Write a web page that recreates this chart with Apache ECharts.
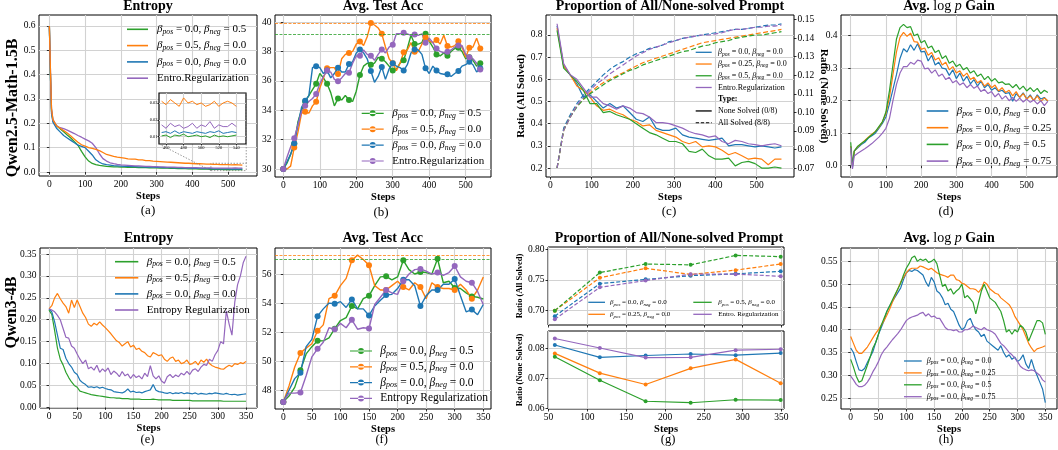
<!DOCTYPE html>
<html>
<head>
<meta charset="utf-8">
<title>ablation figure</title>
<script src="https://cdn.jsdelivr.net/npm/echarts@6.0.0/dist/echarts.min.js"></script>
<style>
  html, body { margin: 0; padding: 0; background: #fff; }
  #chart { width: 1058px; height: 450px; }
</style>
</head>
<body>
<div id="chart"></div>
<script>
// ---------- data ----------
// (a) entropy, Qwen2.5-Math-1.5B
const stepsA = [0,3,6,10,20,30,40,50,60,70,80,90,100,110,120,130,140,150,160,170,180,190,200,210,220,230,240,250,260,270,280,290,300,310,320,330,340,350,360,370,380,390,400,410,420,430,440,450,460,470,480,490,500,510,520,530,540];
const entA_g = [0.6,0.4,0.25,0.21,0.19,0.178,0.165,0.152,0.14,0.125,0.11,0.085,0.062,0.045,0.035,0.03,0.027,0.025,0.023,0.022,0.021,0.021,0.02,0.02,0.019,0.019,0.019,0.018,0.018,0.018,0.017,0.017,0.017,0.016,0.016,0.016,0.015,0.015,0.014,0.014,0.014,0.013,0.013,0.013,0.012,0.012,0.012,0.011,0.011,0.011,0.011,0.01,0.011,0.01,0.01,0.01,0.01];
const entA_o = [0.6,0.42,0.26,0.215,0.19,0.18,0.17,0.16,0.148,0.135,0.122,0.112,0.106,0.1,0.097,0.093,0.088,0.08,0.072,0.068,0.064,0.061,0.059,0.057,0.054,0.053,0.053,0.05,0.05,0.047,0.047,0.045,0.044,0.043,0.042,0.041,0.04,0.039,0.038,0.037,0.036,0.036,0.035,0.034,0.034,0.033,0.032,0.032,0.031,0.031,0.03,0.03,0.03,0.029,0.03,0.029,0.028];
const entA_b = [0.6,0.4,0.24,0.205,0.18,0.165,0.15,0.14,0.13,0.12,0.11,0.105,0.1,0.085,0.07,0.05,0.04,0.033,0.03,0.028,0.026,0.025,0.024,0.023,0.023,0.022,0.022,0.021,0.021,0.02,0.02,0.02,0.019,0.019,0.018,0.018,0.018,0.017,0.017,0.016,0.016,0.016,0.015,0.015,0.015,0.014,0.014,0.014,0.013,0.013,0.013,0.013,0.013,0.012,0.013,0.012,0.013];
const entA_p = [0.6,0.42,0.26,0.215,0.19,0.182,0.178,0.172,0.165,0.158,0.15,0.143,0.135,0.128,0.118,0.1,0.075,0.055,0.045,0.038,0.034,0.031,0.029,0.028,0.027,0.026,0.025,0.025,0.024,0.023,0.023,0.022,0.022,0.021,0.021,0.02,0.02,0.02,0.019,0.019,0.018,0.018,0.018,0.018,0.017,0.017,0.017,0.017,0.016,0.016,0.016,0.016,0.016,0.016,0.017,0.016,0.016];
// inset of (a)
const insetX = [452, 551];
const insetY = [0.0057, 0.0359];
const insetSteps = [455,460,465,470,475,480,485,490,495,500,505,510,515,520,525,530,535,540];
const insA_o = [0.031,0.029,0.032,0.030,0.028,0.033,0.030,0.031,0.029,0.030,0.028,0.029,0.031,0.028,0.030,0.031,0.030,0.028];
const insA_p = [0.017,0.015,0.018,0.016,0.017,0.015,0.016,0.018,0.015,0.017,0.016,0.019,0.015,0.017,0.016,0.016,0.018,0.016];
const insA_b = [0.0125,0.013,0.012,0.0135,0.012,0.013,0.0125,0.012,0.013,0.0125,0.012,0.013,0.0125,0.0135,0.012,0.0125,0.013,0.0125];
const insA_g = [0.0105,0.011,0.0095,0.011,0.0105,0.0115,0.01,0.0105,0.011,0.01,0.0105,0.0095,0.011,0.01,0.0105,0.01,0.0105,0.011];

// (b) avg test acc, 1.5B
const stepsB = [0,10,20,30,40,50,60,70,80,90,100,110,120,130,140,150,160,170,180,190,200,210,220,230,240,250,260,270,280,290,300,310,320,330,340,350,360,370,380,390,400,410,420,430,440,450,460,470,480,490,500,510,520,530,540];
const accB_g = [30.0,30.4,31.0,31.7,33.2,34.0,34.6,35.0,35.4,35.8,36.5,36.2,35.8,35.2,34.3,34.8,34.7,35.0,34.7,34.6,35.3,36.4,37.0,37.2,37.1,37.2,37.6,37.5,37.3,37.0,36.7,36.8,37.2,37.4,38.2,39.1,38.5,38.5,38.6,39.2,38.7,38.3,37.8,37.7,37.9,37.7,38.0,38.2,38.25,38.0,37.5,37.6,37.4,37.0,37.2];
const accB_o = [30.0,30.0,30.2,31.47,32.5,33.8,33.9,33.8,34.3,34.58,35.5,36.2,36.85,36.9,36.9,36.46,37.5,37.8,37.9,38.0,38.5,38.68,38.4,39.0,39.93,39.8,39.6,39.2,38.3,37.5,37.2,36.7,37.2,37.94,38.1,38.6,37.98,38.0,38.5,38.96,38.7,38.6,38.78,38.5,39.1,38.37,38.3,38.4,38.7,38.3,37.6,38.25,38.3,38.9,38.2];
const accB_b = [30.0,30.5,31.0,31.75,33.0,34.2,34.65,35.0,36.9,37.0,36.9,36.5,36.7,36.2,36.5,36.9,36.6,36.6,37.14,37.3,37.9,38.14,37.9,37.5,36.67,35.9,36.3,36.94,36.1,36.8,37.2,37.0,36.9,36.7,37.1,37.9,38.14,38.1,37.8,36.85,36.5,37.0,36.7,36.5,36.45,36.45,36.3,36.5,36.67,37.0,37.1,37.3,37.1,36.6,36.85];
const accB_p = [30.0,30.8,31.5,32.1,33.0,33.9,34.3,34.6,34.8,35.1,35.8,36.3,36.7,36.6,36.1,35.98,36.2,36.5,36.55,37.2,37.7,37.7,38.1,37.8,37.7,37.4,37.8,38.14,37.9,38.3,38.46,39.2,39.2,39.27,39.2,39.1,39.16,39.1,39.2,38.6,38.9,38.6,38.2,38.0,37.9,37.98,38.1,38.3,38.4,38.4,37.8,37.6,37.5,37.2,36.78];

// (c) all / none solved ratio, 1.5B
const stepsC = [16,32,48,64,80,96,112,128,144,160,176,192,208,224,240,256,272,288,304,320,336,352,368,384,400,416,432,448,464,480,496,512,528,544,560];
const allC_b = [0.2,0.38,0.44,0.49,0.53,0.56,0.59,0.62,0.645,0.665,0.68,0.70,0.715,0.725,0.74,0.745,0.755,0.77,0.775,0.785,0.79,0.795,0.80,0.805,0.81,0.815,0.82,0.825,0.825,0.83,0.835,0.84,0.845,0.845,0.85];
const allC_o = [0.2,0.37,0.43,0.48,0.51,0.54,0.565,0.585,0.60,0.615,0.63,0.645,0.66,0.675,0.685,0.695,0.705,0.715,0.725,0.735,0.745,0.755,0.765,0.77,0.775,0.78,0.785,0.79,0.795,0.80,0.805,0.81,0.815,0.82,0.825];
const allC_g = [0.2,0.37,0.43,0.475,0.51,0.535,0.555,0.575,0.595,0.61,0.625,0.64,0.65,0.665,0.675,0.685,0.695,0.705,0.715,0.725,0.73,0.74,0.75,0.755,0.765,0.77,0.775,0.785,0.79,0.795,0.80,0.80,0.805,0.81,0.815];
const allC_p = [0.2,0.37,0.43,0.48,0.52,0.55,0.58,0.60,0.625,0.645,0.665,0.685,0.705,0.72,0.735,0.745,0.755,0.765,0.775,0.785,0.79,0.795,0.80,0.80,0.805,0.81,0.82,0.825,0.825,0.83,0.835,0.835,0.84,0.84,0.845];
const noneC_b = [0.1465,0.1250,0.1202,0.1154,0.1082,0.1094,0.1059,0.1023,0.1047,0.1023,0.1035,0.0999,0.0963,0.0951,0.0975,0.0915,0.0903,0.0903,0.0915,0.0879,0.0867,0.0861,0.0855,0.0849,0.0855,0.0861,0.0820,0.0826,0.0826,0.0820,0.0814,0.0820,0.0814,0.0808,0.0814];
const noneC_o = [0.1453,0.1250,0.1202,0.1142,0.1118,0.1082,0.1035,0.1011,0.1017,0.0999,0.0987,0.0963,0.0951,0.0927,0.0933,0.0903,0.0891,0.0879,0.0867,0.0843,0.0831,0.0843,0.0814,0.0820,0.0814,0.0796,0.0772,0.0784,0.0766,0.0748,0.0754,0.0748,0.0718,0.0748,0.0748];
const noneC_g = [0.1441,0.1238,0.1202,0.1166,0.1118,0.1047,0.1047,0.0999,0.1005,0.0987,0.0975,0.0963,0.0939,0.0915,0.0891,0.0879,0.0861,0.0843,0.0843,0.0831,0.0790,0.0784,0.0802,0.0766,0.0748,0.0748,0.0754,0.0712,0.0730,0.0736,0.0724,0.0700,0.0700,0.0706,0.0700];
const noneC_p = [0.1477,0.1262,0.1202,0.1178,0.1130,0.1082,0.1082,0.1047,0.1035,0.1017,0.1035,0.1023,0.0999,0.0993,0.0975,0.0945,0.0945,0.0939,0.0927,0.0915,0.0897,0.0885,0.0879,0.0867,0.0873,0.0843,0.0831,0.0849,0.0843,0.0831,0.0826,0.0820,0.0826,0.0831,0.0820];

// (d) avg log p gain, 1.5B
const stepsD = [0,5,10,20,30,40,50,60,70,80,90,100,110,120,130,140,150,160,170,180,190,200,210,220,230,240,250,260,270,280,290,300,310,320,330,340,350,360,370,380,390,400,410,420,430,440,450,460,470,480,490,500,510,520,530,540,550,560];
const gainD_b = [0.06,-0.005,0.045,0.055,0.065,0.072,0.085,0.092,0.1,0.115,0.13,0.15,0.19,0.235,0.28,0.33,0.36,0.35,0.372,0.355,0.375,0.35,0.352,0.322,0.34,0.31,0.318,0.3,0.298,0.278,0.295,0.268,0.285,0.26,0.275,0.252,0.265,0.245,0.26,0.24,0.25,0.232,0.24,0.228,0.232,0.222,0.225,0.198,0.222,0.21,0.224,0.205,0.218,0.2,0.218,0.205,0.21,0.198];
const gainD_o = [0.06,0.0,0.045,0.058,0.068,0.078,0.088,0.097,0.105,0.118,0.135,0.16,0.21,0.28,0.35,0.395,0.41,0.398,0.408,0.382,0.38,0.358,0.362,0.34,0.348,0.325,0.332,0.31,0.318,0.295,0.305,0.285,0.292,0.275,0.285,0.265,0.272,0.255,0.262,0.245,0.255,0.24,0.248,0.23,0.24,0.225,0.232,0.215,0.228,0.21,0.222,0.205,0.215,0.2,0.215,0.198,0.208,0.2];
const gainD_g = [0.072,0.0,0.045,0.06,0.068,0.076,0.086,0.095,0.105,0.12,0.135,0.165,0.23,0.31,0.39,0.425,0.435,0.425,0.428,0.4,0.405,0.378,0.385,0.362,0.368,0.348,0.355,0.33,0.338,0.315,0.322,0.305,0.312,0.295,0.302,0.285,0.292,0.275,0.282,0.265,0.275,0.26,0.268,0.255,0.258,0.25,0.252,0.24,0.25,0.235,0.245,0.23,0.24,0.228,0.238,0.222,0.232,0.225];
const gainD_p = [0.055,-0.01,0.03,0.038,0.045,0.052,0.06,0.068,0.078,0.088,0.1,0.115,0.145,0.2,0.25,0.285,0.305,0.305,0.318,0.312,0.325,0.322,0.298,0.3,0.285,0.295,0.275,0.282,0.265,0.272,0.255,0.262,0.248,0.255,0.24,0.25,0.238,0.245,0.228,0.235,0.222,0.228,0.212,0.222,0.205,0.215,0.2,0.21,0.198,0.208,0.196,0.205,0.195,0.202,0.19,0.2,0.185,0.198];

// (e) entropy, Qwen3-4B
const stepsE = [0,5,10,15,20,25,30,35,40,45,50,55,60,65,70,75,80,85,90,95,100,105,110,115,120,125,130,135,140,145,150,155,160,165,170,175,180,185,190,195,200,205,210,215,220,225,230,235,240,245,250,255,260,265,270,275,280,285,290,295,300,305,310,315,320,325,330,335,340,345,350];
const entE_g = [0.222,0.212,0.175,0.135,0.11,0.097,0.08,0.068,0.058,0.05,0.046,0.037,0.035,0.033,0.031,0.029,0.028,0.027,0.026,0.025,0.024,0.023,0.022,0.022,0.021,0.021,0.02,0.02,0.02,0.019,0.019,0.019,0.019,0.018,0.018,0.018,0.018,0.019,0.018,0.017,0.017,0.017,0.017,0.017,0.016,0.016,0.016,0.016,0.016,0.016,0.016,0.015,0.015,0.015,0.015,0.015,0.015,0.015,0.015,0.015,0.015,0.015,0.014,0.014,0.014,0.014,0.014,0.014,0.014,0.014,0.014];
const entE_b = [0.225,0.218,0.195,0.165,0.135,0.132,0.112,0.1,0.092,0.08,0.075,0.062,0.056,0.052,0.046,0.047,0.045,0.047,0.044,0.046,0.043,0.041,0.04,0.036,0.035,0.034,0.033,0.036,0.042,0.035,0.037,0.034,0.035,0.033,0.036,0.038,0.04,0.052,0.039,0.036,0.035,0.033,0.032,0.034,0.031,0.033,0.032,0.034,0.031,0.033,0.032,0.031,0.033,0.03,0.032,0.031,0.03,0.032,0.031,0.033,0.032,0.031,0.03,0.032,0.03,0.029,0.03,0.028,0.029,0.03,0.031];
const entE_o = [0.225,0.232,0.25,0.26,0.248,0.238,0.23,0.215,0.245,0.228,0.245,0.23,0.215,0.205,0.19,0.185,0.192,0.188,0.195,0.188,0.182,0.175,0.168,0.16,0.152,0.148,0.14,0.145,0.15,0.138,0.142,0.132,0.135,0.128,0.125,0.118,0.115,0.125,0.122,0.118,0.12,0.11,0.105,0.112,0.115,0.105,0.108,0.1,0.102,0.108,0.098,0.1,0.105,0.097,0.108,0.103,0.11,0.1,0.095,0.092,0.09,0.088,0.087,0.092,0.096,0.093,0.1,0.098,0.102,0.1,0.105];
const entE_p = [0.225,0.222,0.218,0.21,0.2,0.18,0.16,0.158,0.14,0.135,0.122,0.11,0.1,0.108,0.088,0.092,0.085,0.096,0.08,0.088,0.082,0.09,0.075,0.083,0.078,0.07,0.082,0.072,0.076,0.066,0.075,0.068,0.072,0.065,0.078,0.07,0.095,0.072,0.065,0.072,0.06,0.055,0.07,0.075,0.068,0.074,0.07,0.078,0.074,0.082,0.075,0.085,0.088,0.082,0.092,0.098,0.096,0.11,0.105,0.12,0.13,0.15,0.145,0.22,0.19,0.165,0.24,0.28,0.3,0.33,0.345];

// (f) avg test acc, Qwen3-4B
const stepsF = [0,10,20,30,40,50,60,70,80,90,100,110,120,130,140,150,160,170,180,190,200,210,220,230,240,250,260,270,280,290,300,310,320,330,340,350];
const accF_g = [47.2,47.6,48.2,49.37,50.5,51.0,51.41,51.4,51.6,52.24,52.8,53.0,53.8,53.6,54.3,54.5,55.2,55.8,55.84,55.6,55.8,56.94,56.3,56.0,56.14,56.1,56.0,57.05,55.4,55.5,55.04,55.0,54.7,54.46,54.4,54.28];
const accF_o = [47.2,48.3,49.6,50.56,50.9,51.2,52.1,52.5,54.3,54.5,55.2,55.7,56.94,57.3,57.0,56.6,55.2,54.9,54.9,55.2,55.5,55.1,54.9,55.4,55.1,54.3,55.4,55.1,55.0,55.0,54.9,55.3,54.9,54.3,54.9,55.8];
const accF_b = [47.2,48.0,48.8,49.2,51.0,51.5,53.1,53.6,54.0,53.95,54.1,53.7,54.25,53.6,53.6,53.15,53.8,54.2,54.55,54.6,55.0,55.6,55.6,55.2,53.8,54.5,54.9,54.9,55.3,55.3,55.65,54.5,53.4,53.55,53.2,53.9];
const accF_p = [47.2,47.8,47.8,47.85,49.0,50.3,50.85,51.3,52.3,52.2,52.6,52.3,52.85,52.2,52.3,52.25,53.9,54.4,54.9,54.7,54.6,55.5,56.0,56.3,56.35,56.2,56.0,56.1,55.9,56.1,56.55,55.8,55.5,55.4,54.8,53.9];

// (g) all / none solved ratio, Qwen3-4B
const stepsG = [58,116,175,233,291,349];
const allG_b = [0.691,0.744,0.751,0.757,0.760,0.764];
const allG_o = [0.700,0.7535,0.769,0.759,0.766,0.776];
const allG_g = [0.700,0.762,0.776,0.7746,0.790,0.788];
const allG_p = [0.686,0.738,0.749,0.7595,0.7595,0.756];
const noneG_b = [0.0811,0.0770,0.0776,0.0781,0.0777,0.0784];
const noneG_o = [0.0783,0.0717,0.0679,0.0733,0.0763,0.0683];
const noneG_g = [0.0772,0.0693,0.0623,0.0618,0.0628,0.0627];
const noneG_p = [0.0833,0.0801,0.0769,0.0770,0.0794,0.0797];

// (h) avg log p gain, Qwen3-4B
const stepsH = stepsE;
const gainH_b = [0.36,0.35,0.33,0.312,0.31,0.315,0.328,0.34,0.352,0.372,0.39,0.405,0.42,0.44,0.452,0.462,0.472,0.482,0.492,0.51,0.525,0.53,0.528,0.532,0.53,0.525,0.52,0.505,0.495,0.515,0.505,0.485,0.48,0.47,0.455,0.458,0.445,0.44,0.425,0.41,0.4,0.405,0.42,0.425,0.41,0.4,0.395,0.385,0.39,0.375,0.37,0.365,0.36,0.355,0.365,0.35,0.34,0.345,0.335,0.34,0.33,0.335,0.345,0.325,0.315,0.335,0.315,0.3,0.285,0.27,0.24];
const gainH_o = [0.385,0.37,0.355,0.348,0.348,0.355,0.362,0.372,0.382,0.392,0.4,0.41,0.42,0.432,0.445,0.46,0.475,0.49,0.505,0.515,0.525,0.532,0.535,0.535,0.535,0.54,0.538,0.535,0.532,0.535,0.53,0.525,0.522,0.52,0.518,0.515,0.52,0.52,0.51,0.508,0.502,0.5,0.495,0.49,0.49,0.488,0.482,0.49,0.505,0.5,0.49,0.485,0.48,0.478,0.47,0.465,0.46,0.455,0.445,0.43,0.42,0.41,0.4,0.385,0.37,0.36,0.352,0.358,0.36,0.362,0.365];
const gainH_g = [0.335,0.318,0.298,0.285,0.288,0.305,0.322,0.34,0.36,0.372,0.39,0.41,0.425,0.44,0.452,0.465,0.478,0.49,0.502,0.52,0.535,0.545,0.558,0.562,0.55,0.555,0.552,0.555,0.548,0.55,0.555,0.545,0.52,0.495,0.5,0.485,0.49,0.478,0.485,0.49,0.5,0.47,0.475,0.468,0.46,0.435,0.46,0.485,0.5,0.485,0.47,0.465,0.46,0.45,0.44,0.42,0.395,0.4,0.39,0.4,0.395,0.41,0.405,0.395,0.375,0.39,0.405,0.42,0.42,0.415,0.39];
const gainH_p = [0.298,0.29,0.28,0.275,0.275,0.278,0.285,0.295,0.308,0.318,0.33,0.345,0.355,0.362,0.37,0.378,0.385,0.392,0.4,0.41,0.42,0.425,0.428,0.43,0.432,0.436,0.438,0.43,0.435,0.428,0.43,0.425,0.425,0.415,0.405,0.4,0.4,0.398,0.4,0.395,0.395,0.4,0.4,0.403,0.408,0.405,0.402,0.4,0.405,0.4,0.398,0.395,0.39,0.38,0.37,0.365,0.358,0.35,0.345,0.338,0.33,0.32,0.315,0.312,0.31,0.312,0.31,0.305,0.3,0.29,0.285];

// tick labels
const ticksSteps560 = [0,100,200,300,400,500];
const ticksSteps350 = [0,50,100,150,200,250,300,350];
const ticksStepsG = [50,100,150,200,250,300,350];
const ticksEntA = [0,0.1,0.2,0.3,0.4,0.5,0.6];
const ticksAccB = [30,32,34,36,38,40];
const ticksAllC = [0.2,0.3,0.4,0.5,0.6,0.7,0.8];
const ticksNoneC = [0.07,0.08,0.09,0.10,0.11,0.12,0.13,0.14,0.15];
const ticksGainD = [0,0.1,0.2,0.3,0.4];
const ticksEntE = [0,0.05,0.1,0.15,0.2,0.25,0.3,0.35];
const ticksAccF = [48,50,52,54,56];
const ticksAllG = [0.70,0.75,0.80];
const ticksNoneG = [0.06,0.07,0.08];
const ticksGainH = [0.25,0.3,0.35,0.4,0.45,0.5,0.55];
const ticksInsetX = [460,480,500,520,540];
const ticksInsetY = [0.01,0.02,0.03];

// ---------- styling helpers ----------
const FONT = 'Liberation Serif';
const BLUE = '#1f77b4', ORANGE = '#ff7f0e', GREEN = '#2ca02c', PURPLE = '#9467bd';
const GRIDC = '#d2d2d2';
const f0 = v => String(v);
const f1 = v => v.toFixed(1);
const f2 = v => v.toFixed(2);

function axis(gi, min, max, ticks, fmt, opt) {
  opt = opt || {};
  const a = {
    type: 'value', gridIndex: gi, min: min, max: max, z: opt.z || 0,
    axisLine: {show: false},
    axisTick: {show: true, length: opt.tick || 2.5, lineStyle: {color: '#000', width: 0.8}, customValues: ticks},
    axisLabel: {show: opt.labels !== false, customValues: ticks, formatter: fmt, color: '#000',
      fontFamily: FONT, fontSize: opt.fs || 9.5, margin: opt.margin || 3.5},
    splitLine: {show: opt.split !== false, lineStyle: {color: GRIDC, width: 1.1}}
  };
  if (opt.position) a.position = opt.position;
  if (opt.name) {
    a.name = opt.name;
    a.nameLocation = 'middle';
    a.nameGap = opt.nameGap;
    if (opt.nameRotate !== undefined) a.nameRotate = opt.nameRotate;
    a.nameTextStyle = {fontFamily: FONT, fontSize: opt.nameSize || 10.5, fontWeight: 'bold', color: '#000'};
  }
  return a;
}

function ln(name, xi, yi, xs, ys, color, opt) {
  opt = opt || {};
  return {
    name: name, type: 'line', xAxisIndex: xi, yAxisIndex: yi,
    data: ys.map((y, i) => [xs[i], y]),
    symbol: opt.symbol || 'none', symbolSize: opt.symbolSize || 0, showSymbol: !!opt.symbol,
    z: opt.z || 2, silent: true, animation: false,
    lineStyle: {color: color, width: opt.width || 1.3, type: opt.dash || 'solid'},
    itemStyle: {color: color},
    emphasis: {disabled: true},
    markLine: opt.markLine, markArea: opt.markArea
  };
}

// line with a marker on every third point (every 30 steps)
function mk(name, xi, yi, xs, ys, color, opt) {
  const s = ln(name, xi, yi, xs, ys, color, opt);
  s.data = ys.map((y, i) => ({value: [xs[i], y], symbol: i % 3 === 0 ? 'circle' : 'none'}));
  s.symbol = 'circle';
  s.symbolSize = 6;
  s.showSymbol = true;
  s.showAllSymbol = true;
  return s;
}

function maxLine(ys, color) {
  return {silent: true, symbol: 'none', label: {show: false}, animation: false,
    lineStyle: {color: color, type: [3, 1.5], width: 1, opacity: 0.8},
    data: [{yAxis: Math.max.apply(null, ys)}]};
}

function beta(p, n) {
  return '{i|β}{s|pos}{n| = ' + p + ', }{i|β}{s|neg}{n| = ' + n + '}';
}
const LABEL = {
  aG: beta('0.0', '0.5'), aO: beta('0.5', '0.0'), aB: beta('0.0', '0.0'), aP: '{n|Entro.Regularization}',
  bG: beta('0.0', '0.5'), bO: beta('0.5', '0.0'), bB: beta('0.0', '0.0'), bP: '{n|Entro.Regularization}',
  cB: beta('0.0', '0.0'), cO: beta('0.25', '0.0'), cG: beta('0.5', '0.0'), cP: '{n|Entro.Regularization}',
  cType: '{b|Type:}', cNone: '{n|None Solved (0/8)}', cAll: '{n|All Solved (8/8)}',
  dB: beta('0.0', '0.0'), dO: beta('0.0', '0.25'), dG: beta('0.0', '0.5'), dP: beta('0.0', '0.75'),
  eG: beta('0.0', '0.5'), eO: beta('0.5', '0.0'), eB: beta('0.0', '0.0'), eP: '{n|Entropy Regularization}',
  fG: beta('0.0', '0.5'), fO: beta('0.5', '0.0'), fB: beta('0.0', '0.0'), fP: '{n|Entropy Regularization}',
  gB: beta('0.0', '0.0'), gO: beta('0.25', '0.0'), gG: beta('0.5', '0.0'), gP: '{n|Entro. Regularization}',
  hB: beta('0.0', '0.0'), hO: beta('0.0', '0.25'), hG: beta('0.0', '0.5'), hP: beta('0.0', '0.75')
};
const ICON_MARK = 'path://M0,2.4h22v1.2h-22z M8,3a3,3 0 1,0 6,0a3,3 0 1,0 -6,0z';
const ICON_DASH = 'path://M0,0h3.6v1h-3.6z M5.4,0h3.6v1h-3.6z M10.8,0h3.6v1h-3.6z M16.2,0h0.8v1h-0.8z';

function rich(fs, lh) {
  return {
    n: {fontFamily: FONT, fontSize: fs, lineHeight: lh, color: '#000'},
    i: {fontFamily: FONT, fontSize: fs, lineHeight: lh, fontStyle: 'italic', color: '#000'},
    s: {fontFamily: FONT, fontSize: fs * 0.7, lineHeight: fs * 0.7, fontStyle: 'italic', verticalAlign: 'bottom', color: '#000'},
    b: {fontFamily: FONT, fontSize: fs, lineHeight: lh, fontWeight: 'bold', color: '#000'}
  };
}

function legend(names, left, top, fs, lh, gap, iw, ih, icon, pad, icons) {
  icons = icons || {};
  return {
    data: names.map(n => ({name: n, icon: icons[n] || icon})),
    orient: 'vertical', left: left, top: top, padding: 0,
    itemGap: gap, itemWidth: iw, itemHeight: ih, selectedMode: false,
    itemStyle: {borderWidth: 0},
    formatter: n => LABEL[n],
    textStyle: {fontFamily: FONT, fontSize: fs, lineHeight: lh, color: '#000', padding: [0, 0, 0, pad], rich: rich(fs, lh)}
  };
}

function txt(id, x, y, text, fs, weight, rot, richStyles) {
  return {
    id: id, type: 'text', x: x, y: y, rotation: rot || 0, silent: true, z: 10,
    style: {text: text, fontFamily: FONT, fontSize: fs, fontWeight: weight || 'normal', fill: '#000',
      align: 'center', verticalAlign: 'middle', textAlign: 'center', textVerticalAlign: 'middle', rich: richStyles}
  };
}

const logpRich = {
  b: {fontFamily: FONT, fontSize: 14, fontWeight: 'bold', color: '#000'},
  r: {fontFamily: FONT, fontSize: 14, color: '#000'},
  i: {fontFamily: FONT, fontSize: 14, fontStyle: 'italic', color: '#000'}
};

// ---------- layout ----------
const gridBox = [
  [39, 15, 218, 161],   // 0 a
  [275, 15, 216, 162],  // 1 b
  [546, 15, 248, 162],  // 2 c
  [841, 15, 216, 162],  // 3 d
  [40, 248, 217, 160],  // 4 e
  [275, 248, 216, 161], // 5 f
  [548, 247, 236, 78],  // 6 g top
  [548, 331, 236, 78],  // 7 g bottom
  [841, 248, 216, 161], // 8 h
  [159, 93, 87, 51]     // 9 inset of a
];
const grids = gridBox.map((g, i) => ({
  left: g[0], top: g[1], width: g[2], height: g[3], show: true,
  borderColor: '#000', borderWidth: i === 9 ? 1.2 : 1, backgroundColor: 'transparent',
  outerBoundsMode: 'none', z: i === 9 ? 3 : 0
}));

const xAxes = [
  axis(0, -29, 581, ticksSteps560, f0, {name: 'Steps', nameGap: 11.5}),
  axis(1, -22.8, 569.4, ticksSteps560, f0, {name: 'Steps', nameGap: 11}),
  axis(2, -10.8, 590.4, ticksSteps560, f0, {name: 'Steps', nameGap: 11}),
  axis(3, -27.6, 586, ticksSteps560, f0, {name: 'Steps', nameGap: 11}),
  axis(4, -16, 369.5, ticksSteps350, f0, {name: 'Steps', nameGap: 11}),
  axis(5, -14.5, 363.5, ticksSteps350, f0, {name: 'Steps', nameGap: 11}),
  axis(6, 49.2, 353.3, ticksStepsG, f0, {labels: false}),
  axis(7, 49.2, 353.3, ticksStepsG, f0, {name: 'Steps', nameGap: 11}),
  axis(8, -17.4, 371, ticksSteps350, f0, {name: 'Steps', nameGap: 11}),
  axis(9, insetX[0], insetX[1], ticksInsetX, f0, {fs: 4.5, margin: 1.5, tick: 1.5, z: 3})
];
const yAxes = [
  axis(0, -0.0164, 0.645, ticksEntA, f1),
  axis(1, 29.46, 40.48, ticksAccB, f0),
  axis(2, 0.1594, 0.8902, ticksAllC, f1, {name: 'Ratio (All Solved)', nameGap: 11, nameSize: 11}),
  axis(3, -0.0348, 0.4637, ticksGainD, f1),
  axis(4, -0.0014, 0.3637, ticksEntE, f2),
  axis(5, 46.71, 57.79, ticksAccF, f0),
  axis(6, 0.6766, 0.8037, ticksAllG, f2, {name: 'Ratio (All Solved)', nameGap: 16, nameSize: 8.5}),
  axis(7, 0.0597, 0.0858, ticksNoneG, f2, {name: 'Ratio (None Solved)', nameGap: 16, nameSize: 8.5}),
  axis(8, 0.226, 0.5794, ticksGainH, f2),
  axis(9, insetY[0], insetY[1], ticksInsetY, f2, {fs: 4.5, margin: 1.5, tick: 1.5, z: 3}),
  axis(2, 0.0652, 0.1524, ticksNoneC, f2, {position: 'right', split: false, name: 'Ratio (None Solved)', nameGap: 24, nameRotate: -90, nameSize: 11})
];

// ---------- series ----------
const series = [
  // (a)
  ln('aG', 0, 0, stepsA, entA_g, GREEN),
  ln('aB', 0, 0, stepsA, entA_b, BLUE),
  ln('aP', 0, 0, stepsA, entA_p, PURPLE),
  ln('aO', 0, 0, stepsA, entA_o, ORANGE, {markArea: {silent: true, label: {show: false},
    itemStyle: {color: 'rgba(0,0,0,0)', borderColor: '#808080', borderWidth: 0.8, borderType: [1.5, 1.5]},
    data: [[{coord: [insetX[0], insetY[0]]}, {coord: [insetX[1], insetY[1]]}]]}}),
  ln('iG', 9, 9, insetSteps, insA_g, GREEN, {width: 1, z: 4}),
  ln('iB', 9, 9, insetSteps, insA_b, BLUE, {width: 1, z: 4}),
  ln('iP', 9, 9, insetSteps, insA_p, PURPLE, {width: 1, z: 4}),
  ln('iO', 9, 9, insetSteps, insA_o, ORANGE, {width: 1, z: 4}),
  // (b)
  mk('bG', 1, 1, stepsB, accB_g, GREEN, {width: 1.4, markLine: maxLine(accB_g, GREEN)}),
  mk('bO', 1, 1, stepsB, accB_o, ORANGE, {width: 1.4, markLine: maxLine(accB_o, ORANGE)}),
  mk('bB', 1, 1, stepsB, accB_b, BLUE, {width: 1.4}),
  mk('bP', 1, 1, stepsB, accB_p, PURPLE, {width: 1.4}),
  // (c)
  ln('cBd', 2, 2, stepsC, allC_b, BLUE, {dash: [5, 2.5], width: 1.2}),
  ln('cOd', 2, 2, stepsC, allC_o, ORANGE, {dash: [5, 2.5], width: 1.2}),
  ln('cGd', 2, 2, stepsC, allC_g, GREEN, {dash: [5, 2.5], width: 1.2}),
  ln('cPd', 2, 2, stepsC, allC_p, PURPLE, {dash: [5, 2.5], width: 1.2}),
  ln('cB', 2, 10, stepsC, noneC_b, BLUE, {width: 1.2}),
  ln('cO', 2, 10, stepsC, noneC_o, ORANGE, {width: 1.2}),
  ln('cG', 2, 10, stepsC, noneC_g, GREEN, {width: 1.2}),
  ln('cP', 2, 10, stepsC, noneC_p, PURPLE, {width: 1.2}),
  ln('cType', 2, 2, [], [], '#000'),
  ln('cNone', 2, 2, [], [], '#000'),
  ln('cAll', 2, 2, [], [], '#000'),
  // (d)
  ln('dB', 3, 3, stepsD, gainD_b, BLUE, {width: 1.2}),
  ln('dO', 3, 3, stepsD, gainD_o, ORANGE, {width: 1.2}),
  ln('dG', 3, 3, stepsD, gainD_g, GREEN, {width: 1.2}),
  ln('dP', 3, 3, stepsD, gainD_p, PURPLE, {width: 1.2}),
  // (e)
  ln('eG', 4, 4, stepsE, entE_g, GREEN, {width: 1.2}),
  ln('eO', 4, 4, stepsE, entE_o, ORANGE, {width: 1.2}),
  ln('eB', 4, 4, stepsE, entE_b, BLUE, {width: 1.2}),
  ln('eP', 4, 4, stepsE, entE_p, PURPLE, {width: 1.2}),
  // (f)
  mk('fG', 5, 5, stepsF, accF_g, GREEN, {width: 1.4, markLine: maxLine(accF_g, GREEN)}),
  mk('fO', 5, 5, stepsF, accF_o, ORANGE, {width: 1.4, markLine: maxLine(accF_o, ORANGE)}),
  mk('fB', 5, 5, stepsF, accF_b, BLUE, {width: 1.4}),
  mk('fP', 5, 5, stepsF, accF_p, PURPLE, {width: 1.4}),
  // (g)
  ln('gB', 6, 6, stepsG, allG_b, BLUE, {dash: [4, 2], width: 1.2, symbol: 'circle', symbolSize: 4}),
  ln('gO', 6, 6, stepsG, allG_o, ORANGE, {dash: [4, 2], width: 1.2, symbol: 'circle', symbolSize: 4}),
  ln('gG', 6, 6, stepsG, allG_g, GREEN, {dash: [4, 2], width: 1.2, symbol: 'circle', symbolSize: 4}),
  ln('gP', 6, 6, stepsG, allG_p, PURPLE, {dash: [4, 2], width: 1.2, symbol: 'circle', symbolSize: 4}),
  ln('gBn', 7, 7, stepsG, noneG_b, BLUE, {width: 1.2, symbol: 'circle', symbolSize: 4}),
  ln('gOn', 7, 7, stepsG, noneG_o, ORANGE, {width: 1.2, symbol: 'circle', symbolSize: 4}),
  ln('gGn', 7, 7, stepsG, noneG_g, GREEN, {width: 1.2, symbol: 'circle', symbolSize: 4}),
  ln('gPn', 7, 7, stepsG, noneG_p, PURPLE, {width: 1.2, symbol: 'circle', symbolSize: 4}),
  // (h)
  ln('hB', 8, 8, stepsH, gainH_b, BLUE, {width: 1.2}),
  ln('hO', 8, 8, stepsH, gainH_o, ORANGE, {width: 1.2}),
  ln('hG', 8, 8, stepsH, gainH_g, GREEN, {width: 1.2}),
  ln('hP', 8, 8, stepsH, gainH_p, PURPLE, {width: 1.2})
];

const legends = [
  legend(['aG', 'aO', 'aB', 'aP'], 127, 22.8, 11, 13, 3.3, 21, 1.6, 'rect', 4),
  legend(['bG', 'bO', 'bB', 'bP'], 361.7, 106.8, 11, 13, 2.9, 22, 6, ICON_MARK, 3.5),
  legend(['cB', 'cO', 'cG', 'cP', 'cType', 'cNone', 'cAll'], 695.7, 47.3, 8, 10, 1.73, 16, 1.3, 'rect', 1.3,
    {cType: 'none', cAll: ICON_DASH}),
  legend(['dB', 'dO', 'dG', 'dP'], 926.7, 104.5, 11, 13, 3.7, 21.6, 1.6, 'rect', 3.4),
  legend(['eG', 'eO', 'eB', 'eP'], 115, 255.2, 11, 13, 3.1, 23.3, 1.6, 'rect', 3.4),
  legend(['fG', 'fO', 'fB', 'fP'], 350, 344.5, 11.5, 13, 2.8, 23.3, 6, ICON_MARK, 2.7),
  legend(['gB', 'gO'], 588.3, 297.8, 7, 9, 3, 16.7, 1.3, 'rect', 0),
  legend(['gG', 'gP'], 693.3, 297.8, 7, 9, 3, 18.4, 1.3, 'rect', 1.6),
  legend(['hB', 'hO', 'hG', 'hP'], 904, 356, 8, 10, 1.9, 17.7, 1.3, 'rect', 0)
];

const graphics = [
  {id: 'insetBg', type: 'rect', shape: {x: 159, y: 93, width: 87, height: 51}, style: {fill: '#fff'}, z: 1, silent: true},
  txt('tA', 148, 6, 'Entropy', 14, 'bold'),
  txt('tB', 383, 6, 'Avg. Test Acc', 14, 'bold'),
  txt('tC', 670, 6, 'Proportion of All/None-solved Prompt', 14, 'bold'),
  txt('tD', 949, 6, '{b|Avg. }{r|log }{i|p}{b| Gain}', 14, 'bold', 0, logpRich),
  txt('tE', 148.5, 238.5, 'Entropy', 14, 'bold'),
  txt('tF', 382.7, 238.5, 'Avg. Test Acc', 14, 'bold'),
  txt('tG', 669, 238.5, 'Proportion of All/None-solved Prompt', 14, 'bold'),
  txt('tH', 949, 238.5, '{b|Avg. }{r|log }{i|p}{b| Gain}', 14, 'bold', 0, logpRich),
  txt('la', 148, 211, '(a)', 13),
  txt('lb', 381, 212.5, '(b)', 13),
  txt('lc', 669, 212, '(c)', 13),
  txt('ld', 946, 212, '(d)', 13),
  txt('le', 147.5, 439.5, '(e)', 12.5),
  txt('lf', 381.7, 439.5, '(f)', 12.5),
  txt('lg', 668, 439.5, '(g)', 12.5),
  txt('lh', 946, 439.5, '(h)', 12.5),
  txt('rowA', 12.5, 108, 'Qwen2.5-Math-1.5B', 16, 'bold', Math.PI / 2),
  txt('rowE', 12.3, 312.5, 'Qwen3-4B', 16, 'bold', Math.PI / 2)
];

const chart = echarts.init(document.getElementById('chart'), null, {renderer: 'canvas'});
chart.setOption({
  backgroundColor: '#fff',
  animation: false,
  grid: grids,
  xAxis: xAxes,
  yAxis: yAxes,
  legend: legends,
  series: series,
  graphic: {elements: graphics}
});

// connector lines between the zoomed region of (a) and its inset
const rectLL = chart.convertToPixel({gridIndex: 0}, [insetX[0], insetY[0]]);
const rectUR = chart.convertToPixel({gridIndex: 0}, [insetX[1], insetY[1]]);
const insLL = chart.convertToPixel({gridIndex: 9}, [insetX[0], insetY[0]]);
const insUR = chart.convertToPixel({gridIndex: 9}, [insetX[1], insetY[1]]);
const conStyle = {stroke: '#808080', lineWidth: 0.8, lineDash: [1.5, 1.5]};
chart.setOption({graphic: {elements: [
  {id: 'con1', type: 'line', silent: true, z: 5, shape: {x1: insLL[0], y1: insLL[1], x2: rectLL[0], y2: rectLL[1]}, style: conStyle},
  {id: 'con2', type: 'line', silent: true, z: 5, shape: {x1: insUR[0], y1: insUR[1], x2: rectUR[0], y2: rectUR[1]}, style: conStyle}
]}});
</script>
</body>
</html>
